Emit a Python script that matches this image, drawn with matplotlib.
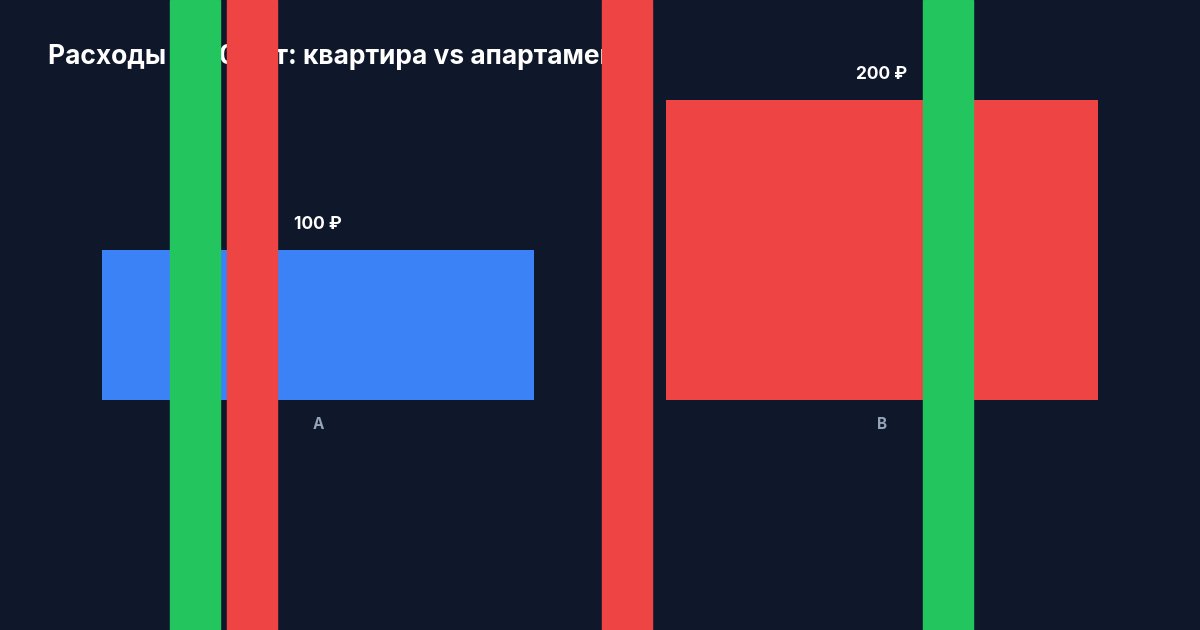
import matplotlib
matplotlib.use("Agg")
import matplotlib.pyplot as plt
from matplotlib.patches import Rectangle

categories = ["A", "B"]
values = [100, 200]
labels = ["100 ₽", "200 ₽"]
colors = ["#3b82f6", "#ef4444"]
title = "Расходы за 10 лет: квартира vs апартаменты"

BG = "#0f172a"
W, H = 1200, 630
fig = plt.figure(figsize=(W/100, H/100), dpi=100, facecolor=BG)
plt.rcParams['font.family'] = ['Inter', 'DejaVu Sans']

ax = fig.add_axes([36/W, 230/H, 1128/W, 300/H])
ax.set_facecolor(BG)
ax.bar(range(len(categories)), values, width=432/564, color=colors, zorder=2)
ax.set_xlim(-0.5, 1.5)
ax.set_ylim(0, 200)
for s in ax.spines.values():
    s.set_visible(False)
ax.set_yticks([])
ax.set_xticks(range(len(categories)))
ax.set_xticklabels(categories, color="#94a3b8", fontsize=11, fontweight="bold")
ax.tick_params(axis='x', length=0, pad=12)
for i, (v, l) in enumerate(zip(values, labels)):
    ax.annotate(l, (i, v), xytext=(0, 12), textcoords="offset points",
                ha="center", va="bottom", color="white", fontsize=12.5, fontweight="bold",
                annotation_clip=False)

fig.text(48/W, 1-57/H, title, color="white", fontsize=19, fontweight="bold",
         va="center", ha="left")

for x0, c in [(170, "#22c55e"), (227, "#ef4444"), (602, "#ef4444"), (923, "#22c55e")]:
    fig.add_artist(Rectangle((x0/W, 0), 50/W, 1, transform=fig.transFigure,
                             color=c, zorder=10))

fig.savefig("out.png", facecolor=BG)
